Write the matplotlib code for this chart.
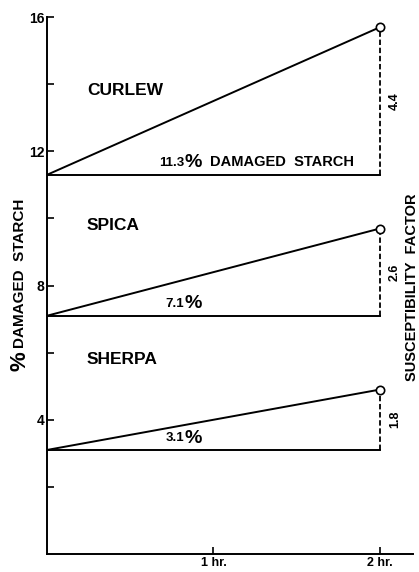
import matplotlib.pyplot as plt

plt.rcParams['font.family'] = ['Liberation Sans', 'DejaVu Sans']
plt.rcParams['font.weight'] = 'bold'

varieties = ["CURLEW", "SPICA", "SHERPA"]
start = [11.3, 7.1, 3.1]
factor = [4.4, 2.6, 1.8]
factor_labels = ["4.4", "2.6", "1.8"]
start_labels = ["11.3", "7.1", "3.1"]
name_pos = [13.8, 9.8, 5.8]
hours = [0, 2]

fig = plt.figure(figsize=(4.19, 5.72), dpi=100)
ax = fig.add_axes([0.112, 0.0315, 0.874, 0.9385])
ax.set_xlim(0, 2.2)
ax.set_ylim(0, 16)

for name, s, f, fl, sl, ny in zip(varieties, start, factor, factor_labels, start_labels, name_pos):
    end = s + f
    ax.plot(hours, [s, end], color='black', lw=1.4)
    ax.plot(hours, [s, s], color='black', lw=1.4)
    ax.plot([2, 2], [s, end], color='black', lw=1.3, ls=(0, (3, 1.5)))
    ax.plot([2], [end], 'o', mfc='white', mec='black', ms=6, mew=1.2, zorder=5)
    ax.text(2.09, (s + end) / 2, fl, rotation=90, ha='center', va='center', fontsize=9)
    ax.text(0.24, ny, name, ha='left', va='center', fontsize=12.5)
    # percent annotation sitting on the base line
    ax.text(0.825, s + 0.17, sl, ha='right', va='bottom', fontsize=9.5)
    ax.text(0.825, s + 0.1, "%", ha='left', va='bottom', fontsize=14)

ax.text(0.98, 11.3 + 0.17, "DAMAGED  STARCH", ha='left', va='bottom', fontsize=10.5)

ax.spines['top'].set_visible(False)
ax.spines['right'].set_visible(False)
ax.spines['left'].set_linewidth(1.4)
ax.spines['bottom'].set_linewidth(1.4)

ax.set_yticks([4, 8, 12, 16])
ax.set_yticklabels(["4", "8", "12", "16"], fontsize=10)
ax.set_yticks([2, 6, 10, 14], minor=True)
ax.set_xticks([1, 2])
ax.set_xticklabels(["1 hr.", "2 hr."], fontsize=9)
ax.tick_params(axis='both', which='both', direction='in', length=5, width=1.2, pad=2)

fig.text(0.047, 0.522, "DAMAGED  STARCH", rotation=90, ha='center', va='center', fontsize=11)
fig.text(0.047, 0.368, "%", rotation=90, ha='center', va='center', fontsize=16)
fig.text(0.983, 0.498, "SUSCEPTIBILITY  FACTOR", rotation=90, ha='center', va='center', fontsize=10.5)

fig.savefig("out.png", dpi=100)
